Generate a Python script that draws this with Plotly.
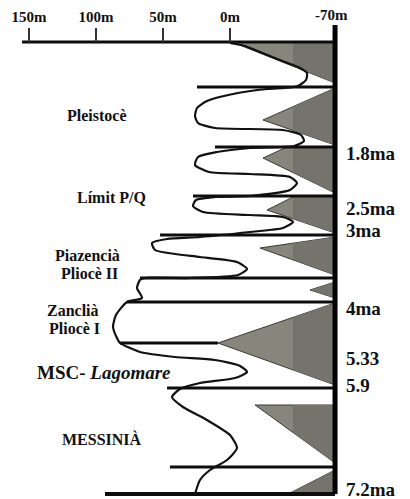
import plotly.graph_objects as go

# ---------------- data ----------------
# sea-level curve: x = metres (positive = higher sea level, to the left), y = position down the column
curve_m = [0, -11.2, -26.1, -41.0, -52.2, -57.5, -56.7, -50.7, -41.0, -27.6, -2.2, 17.2, 24.6, 26.1,
           23.9, 11.2,
           -39.6, -53.0, -55.2, -47.8, -14.9, 9.7, 23.9, 26.1, 15.7, -14.9, -44.8, -50.0, -44.8,
           -14.9, 11.2, 25.4, 27.6, 20.1, -14.9, -39.6, -47.0, -39.6, -14.9, 22.4, 47.0, 58.2,
           56.0, 41.0, 22.4, -5.2, -12.7, -6.0, 29.9, 63.4, 67.2, 69.4, 65.7, 76.9, 85.1, 87.3,
           83.6, 82.1, 67.2, 41.0, 11.2, -7.5, -12.7, -3.7, 22.4, 37.3, 43.3, 35.1, 17.2, 0,
           -5.2, 2.2, 14.9, 22.4, 26.1]
curve_y = [43, 46, 54, 62, 68, 73, 80, 86, 88, 89, 94, 101, 108, 116,
           123, 128,
           130, 135, 141, 146, 148, 152, 157, 165, 172, 174, 177, 183, 190,
           196, 197, 200, 206, 212, 215, 217, 222, 228, 232, 237, 239, 243,
           250, 254, 257, 262, 269, 275, 278, 278, 280, 288, 298, 302, 315, 327,
           340, 343, 352, 357, 360, 366, 372, 378, 383, 389, 397, 407, 420, 435,
           448, 460, 470, 480, 494]

# sequence boundaries: position down the column and left end (metres)
boundary_y = [87, 147, 196, 235, 278, 302, 343, 388, 467]
boundary_left = [24.6, 11.2, 27.6, 52.2, 67.2, 76.9, 82.1, 47.0, 44.8]
boundary_right = [-78.4, -78.4, -78.4, -78.4, -78.4, -78.4, 9.0, -78.4, -78.4]
base_y = 494
base_left = 93.3

# grey wedges (tip on the left, base on the column edge)
wedges_m = [
    [-1.5, -78.4, -78.4],
    [-24.6, -78.4, -78.4],
    [-24.6, -42.5, -78.4, -78.4],
    [-27.6, -48.5, -78.4, -78.4],
    [-22.4, -78.4, -78.4],
    [-59.7, -78.4, -78.4],
    [9.0, -78.4, -78.4],
    [-18.7, -78.4, -78.4],
    [-44.8, -78.4, -78.4],
]
wedges_y = [
    [42, 42, 83],
    [120, 88, 145],
    [158, 147, 147, 193],
    [210, 196, 196, 233],
    [248, 237, 275],
    [290, 282, 298],
    [343, 303, 385],
    [405, 405, 463],
    [493, 470, 493],
]

# axis
tick_vals = [150, 100, 50, 0]
tick_text = ["150m", "100m", "50m", "0m"]
column_edge = -78.4
axis_left = 155.2

# age labels at the right
age_labels = ["1.8ma", "2.5ma", "3ma", "4ma", "5.33", "5.9", "7.2ma"]
age_y = [153, 208, 230, 308, 358, 385, 489]

# stage labels at the left
stage_labels = ["Pleistocè", "Límit P/Q", "Piazencià", "Pliocè II", "Zanclià", "Pliocè I", "MESSINIÀ"]
stage_x = [99.3, 88.1, 106.0, 105.2, 117.2, 116.4, 95.5]
stage_y = [115, 197, 255, 273, 310, 328, 439]

# ---------------- helpers ----------------
def clip_right(xs, ys, xcut):
    """keep the part of a polygon with x <= xcut (Sutherland-Hodgman)"""
    pts = list(zip(xs, ys))
    out = []
    n = len(pts)
    for i in range(n):
        cx, cy = pts[i]
        px, py = pts[i - 1]
        cin = cx <= xcut
        pin = px <= xcut
        if cin:
            if not pin:
                t = (xcut - px) / (cx - px)
                out.append((xcut, py + t * (cy - py)))
            out.append((cx, cy))
        elif pin:
            t = (xcut - px) / (cx - px)
            out.append((xcut, py + t * (cy - py)))
    return [p[0] for p in out], [p[1] for p in out]

FONT = "Liberation Serif"
fig = go.Figure()

# wedges
for wx, wy in zip(wedges_m, wedges_y):
    fig.add_trace(go.Scatter(x=wx + [wx[0]], y=wy + [wy[0]], mode="lines", fill="toself",
                             fillcolor="#86867c", line=dict(color="#3a3a36", width=1),
                             hoverinfo="skip", showlegend=False))
    bx, by = clip_right(wx, wy, -47.0)
    if len(bx) >= 3:
        fig.add_trace(go.Scatter(x=bx + [bx[0]], y=by + [by[0]], mode="lines", fill="toself",
                                 fillcolor="#74746c", line=dict(color="rgba(0,0,0,0)", width=0),
                                 hoverinfo="skip", showlegend=False))

# boundaries
bx_all, by_all = [], []
for yv, xl, xr in zip(boundary_y, boundary_left, boundary_right):
    bx_all += [xl, xr, None]
    by_all += [yv, yv, None]
fig.add_trace(go.Scatter(x=bx_all, y=by_all, mode="lines", line=dict(color="#0d0d0d", width=3),
                         hoverinfo="skip", showlegend=False))
fig.add_trace(go.Scatter(x=[base_left, column_edge], y=[base_y, base_y], mode="lines",
                         line=dict(color="#0d0d0d", width=4), hoverinfo="skip", showlegend=False))
# top axis line
fig.add_trace(go.Scatter(x=[axis_left, column_edge], y=[42, 42], mode="lines",
                         line=dict(color="#0d0d0d", width=3), hoverinfo="skip", showlegend=False))

# curve
fig.add_trace(go.Scatter(x=curve_m, y=curve_y, mode="lines",
                         line=dict(color="#111111", width=2.2, shape="spline", smoothing=0.6),
                         hoverinfo="skip", showlegend=False))

# column edge bar
fig.add_trace(go.Scatter(x=[column_edge, column_edge], y=[25, 494], mode="lines",
                         line=dict(color="#000000", width=5), hoverinfo="skip", showlegend=False))

# annotations
ann = []
for t, yv in zip(age_labels, age_y):
    ann.append(dict(x=-85.0, y=yv, text="<b>" + t + "</b>", showarrow=False, xanchor="left",
                    yanchor="middle", font=dict(family=FONT, size=19, color="#111")))
for t, xv, yv in zip(stage_labels, stage_x, stage_y):
    ann.append(dict(x=xv, y=yv, text="<b>" + t + "</b>", showarrow=False, xanchor="center",
                    yanchor="middle", font=dict(family=FONT, size=16, color="#111")))
ann.append(dict(x=145.5, y=372, text="<b>MSC- <i>Lagomare</i></b>", showarrow=False,
                xanchor="left", yanchor="middle", font=dict(family=FONT, size=19, color="#111")))
ann.append(dict(x=-76.1, y=15, text="<b>-70m</b>", showarrow=False, xanchor="center",
                yanchor="middle", font=dict(family=FONT, size=15, color="#111")))

fig.update_layout(
    width=410, height=499,
    margin=dict(l=0, r=0, t=0, b=0),
    paper_bgcolor="white", plot_bgcolor="white",
    annotations=ann,
    xaxis=dict(range=[171.64, -134.33], showgrid=False, zeroline=False, showline=False,
               side="top", anchor="free", position=(499 - 42) / 499,
               tickvals=tick_vals, ticktext=["<b>" + t + "</b>" for t in tick_text],
               ticks="outside", ticklen=14, tickwidth=1.5, tickcolor="#333",
               tickfont=dict(family=FONT, size=15, color="#111")),
    yaxis=dict(range=[499, 0], visible=False, showgrid=False, zeroline=False),
)

fig.write_html("out.html", config={"displayModeBar": False},
               post_script="document.body.style.margin='0';document.body.style.overflow='hidden';")
